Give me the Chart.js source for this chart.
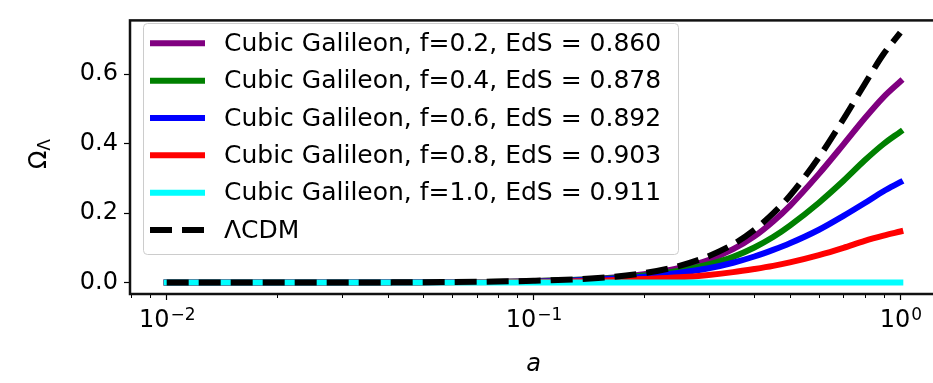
<!DOCTYPE html>
<html>
<head>
<meta charset="utf-8">
<script src="https://cdn.jsdelivr.net/npm/chart.js@4.4.0/dist/chart.umd.min.js"></script>
<style>
  html, body { margin: 0; padding: 0; background: #fff; overflow: hidden; }
  #wrap { position: relative; width: 940px; height: 383px; }
</style>
</head>
<body>
<div id="wrap"><canvas id="omegaChart" width="940" height="383"></canvas></div>
<script>
// scale factor a (x axis, log)
const aValues = [0.01, 0.02, 0.05, 0.1, 0.15, 0.2, 0.25, 0.3, 0.35, 0.4, 0.45, 0.5, 0.6, 0.7, 0.8, 0.9, 1.0];

// Omega_Lambda
const galileonF02 = [0, 0, 0.001, 0.004, 0.011, 0.024, 0.042, 0.065, 0.096, 0.133, 0.176, 0.221, 0.313, 0.398, 0.473, 0.534, 0.579];
const galileonF04 = [0, 0, 0.001, 0.004, 0.010, 0.020, 0.034, 0.052, 0.074, 0.101, 0.131, 0.164, 0.230, 0.293, 0.352, 0.399, 0.434];
const galileonF06 = [0, 0, 0.001, 0.003, 0.009, 0.017, 0.028, 0.041, 0.057, 0.075, 0.094, 0.113, 0.152, 0.192, 0.229, 0.263, 0.289];
const galileonF08 = [0, 0, 0, 0.002, 0.005, 0.010, 0.015, 0.022, 0.030, 0.039, 0.048, 0.058, 0.079, 0.100, 0.120, 0.135, 0.147];
const galileonF10 = [0, 0, 0, 0, 0, 0, 0, 0, 0, 0, 0, 0, 0, 0, 0, 0, 0];
const lcdm        = [0, 0, 0.001, 0.005, 0.013, 0.027, 0.048, 0.076, 0.110, 0.152, 0.199, 0.250, 0.361, 0.471, 0.572, 0.658, 0.720];

const seriesLabels = [
  'Cubic Galileon, f=0.2, EdS = 0.860',
  'Cubic Galileon, f=0.4, EdS = 0.878',
  'Cubic Galileon, f=0.6, EdS = 0.892',
  'Cubic Galileon, f=0.8, EdS = 0.903',
  'Cubic Galileon, f=1.0, EdS = 0.911',
  '\u039BCDM'
];

const xMajorTicks = [0.01, 0.1, 1];
const xTickBase = ['10', '10', '10'];
const xTickExp = ['\u22122', '\u22121', '0'];
const xMinorTicks = [0.008, 0.009, 0.02, 0.03, 0.04, 0.05, 0.06, 0.07, 0.08, 0.09,
                     0.2, 0.3, 0.4, 0.5, 0.6, 0.7, 0.8, 0.9];
const yTicks = [0, 0.2, 0.4, 0.6];

const FONT = 'DejaVu Sans';
Chart.defaults.font.family = FONT;
Chart.defaults.color = '#000';

function pts(ys) {
  return aValues.map((a, i) => ({ x: a, y: ys[i] }));
}

function line(label, ys, color, order, dashed) {
  return {
    label: label,
    data: pts(ys),
    borderColor: color,
    backgroundColor: color,
    borderWidth: 6,
    borderDash: dashed ? [22, 10] : [],
    borderCapStyle: dashed ? 'butt' : 'square',
    pointRadius: 0,
    fill: false,
    cubicInterpolationMode: 'monotone',
    order: order
  };
}

// frame (all four spines) + minor ticks on the log axis
const framePlugin = {
  id: 'frame',
  afterDraw(chart) {
    const { ctx, chartArea: ca } = chart;
    const xs = chart.scales.x;
    ctx.save();
    ctx.strokeStyle = '#000';
    ctx.lineWidth = 1;
    ctx.beginPath();
    for (const v of xMinorTicks) {
      const px = Math.round(xs.getPixelForValue(v)) + 0.5;
      ctx.moveTo(px, ca.bottom);
      ctx.lineTo(px, ca.bottom + 4);
    }
    ctx.stroke();
    ctx.lineWidth = 2.5;
    ctx.strokeStyle = '#111';
    ctx.strokeRect(ca.left, ca.top, ca.right - ca.left, ca.bottom - ca.top);
    ctx.restore();
  }
};

// power-of-ten tick labels with a raised exponent
const xLabelsPlugin = {
  id: 'xLabels',
  afterDraw(chart) {
    const ctx = chart.ctx;
    const xs = chart.scales.x;
    const big = '24px "' + FONT + '"';
    const small = '17px "' + FONT + '"';
    ctx.save();
    ctx.fillStyle = '#000';
    ctx.textBaseline = 'alphabetic';
    ctx.textAlign = 'left';
    xMajorTicks.forEach((v, i) => {
      const px = xs.getPixelForValue(v);
      ctx.font = big;
      const w1 = ctx.measureText(xTickBase[i]).width;
      ctx.font = small;
      const w2 = ctx.measureText(xTickExp[i]).width;
      const x0 = px - (w1 + w2) / 2;
      ctx.font = big;
      ctx.fillText(xTickBase[i], x0, 327);
      ctx.font = small;
      ctx.fillText(xTickExp[i], x0 + w1 + 1, 320);
    });
    ctx.restore();
  }
};

// Omega_Lambda title with a subscript, rotated like matplotlib does
const yTitlePlugin = {
  id: 'yTitle',
  afterDraw(chart) {
    const ctx = chart.ctx;
    ctx.save();
    ctx.translate(38, 154);
    ctx.rotate(-Math.PI / 2);
    ctx.fillStyle = '#000';
    ctx.textBaseline = 'alphabetic';
    ctx.font = '24px "' + FONT + '"';
    const w1 = ctx.measureText('\u03A9').width;
    ctx.font = '17px "' + FONT + '"';
    const w2 = ctx.measureText('\u039B').width;
    const x0 = -(w1 + w2) / 2;
    ctx.font = '24px "' + FONT + '"';
    ctx.fillText('\u03A9', x0, 8);
    ctx.font = '17px "' + FONT + '"';
    ctx.fillText('\u039B', x0 + w1, 12);
    ctx.restore();
  }
};

// legend inside the axes, upper left
const legendBox = { x: 143, y: 23, w: 535, h: 231, row0: 43.3, rowGap: 37.35, sw0: 150, sw1: 205, textX: 224 };
const insideLegendPlugin = {
  id: 'insideLegend',
  afterDraw(chart) {
    const ctx = chart.ctx;
    const b = legendBox;
    ctx.save();
    ctx.beginPath();
    ctx.roundRect(b.x + 0.5, b.y + 0.5, b.w, b.h, 4);
    ctx.fillStyle = 'rgba(255,255,255,0.8)';
    ctx.fill();
    ctx.strokeStyle = '#cccccc';
    ctx.lineWidth = 1;
    ctx.stroke();
    chart.data.datasets.forEach((ds, i) => {
      const y = b.row0 + i * b.rowGap;
      ctx.beginPath();
      ctx.strokeStyle = ds.borderColor;
      ctx.lineWidth = ds.borderWidth;
      ctx.lineCap = ds.borderCapStyle;
      ctx.setLineDash(ds.borderDash);
      const s0 = ds.borderDash.length ? b.sw0 : b.sw0 + 3;
      const s1 = ds.borderDash.length ? b.sw1 : b.sw1 - 3;
      ctx.moveTo(s0, y);
      ctx.lineTo(s1, y);
      ctx.stroke();
      ctx.setLineDash([]);
      ctx.fillStyle = '#000';
      ctx.font = '25px "' + FONT + '"';
      ctx.textBaseline = 'middle';
      ctx.textAlign = 'left';
      ctx.fillText(ds.label, b.textX, y + 1);
    });
    ctx.restore();
  }
};

new Chart(document.getElementById('omegaChart'), {
  type: 'line',
  data: {
    datasets: [
      line(seriesLabels[0], galileonF02, '#800080', 5, false),
      line(seriesLabels[1], galileonF04, '#008000', 4, false),
      line(seriesLabels[2], galileonF06, '#0000ff', 3, false),
      line(seriesLabels[3], galileonF08, '#ff0000', 2, false),
      line(seriesLabels[4], galileonF10, '#00ffff', 1, false),
      line(seriesLabels[5], lcdm, '#000000', 0, true)
    ]
  },
  options: {
    responsive: false,
    animation: false,
    events: [],
    layout: { padding: { top: 11, right: 3, left: 0, bottom: 0 } },
    plugins: {
      legend: { display: false },
      tooltip: { enabled: false }
    },
    scales: {
      x: {
        type: 'logarithmic',
        min: Math.pow(10, -2.1),
        max: Math.pow(10, 0.1),
        afterBuildTicks: s => { s.ticks = xMajorTicks.map(v => ({ value: v })); },
        afterFit: s => { s.height = 89; },
        ticks: { display: false, autoSkip: false },
        grid: { drawOnChartArea: false, tickLength: 6, tickWidth: 1.2, tickColor: '#000' },
        border: { display: false },
        title: {
          display: true,
          text: 'a',
          font: { size: 24, style: 'italic' },
          color: '#000',
          padding: { top: 0, bottom: 3.5 }
        }
      },
      y: {
        type: 'linear',
        min: -0.033,
        max: 0.755,
        afterBuildTicks: s => { s.ticks = yTicks.map(v => ({ value: v })); },
        afterFit: s => { s.width = 130; },
        ticks: {
          padding: 6,
          font: { size: 24 },
          color: '#000',
          callback: v => Number(v).toFixed(1)
        },
        grid: { drawOnChartArea: false, tickLength: 6, tickWidth: 1.2, tickColor: '#000' },
        border: { display: false }
      }
    }
  },
  plugins: [framePlugin, xLabelsPlugin, yTitlePlugin, insideLegendPlugin]
});
</script>
</body>
</html>
